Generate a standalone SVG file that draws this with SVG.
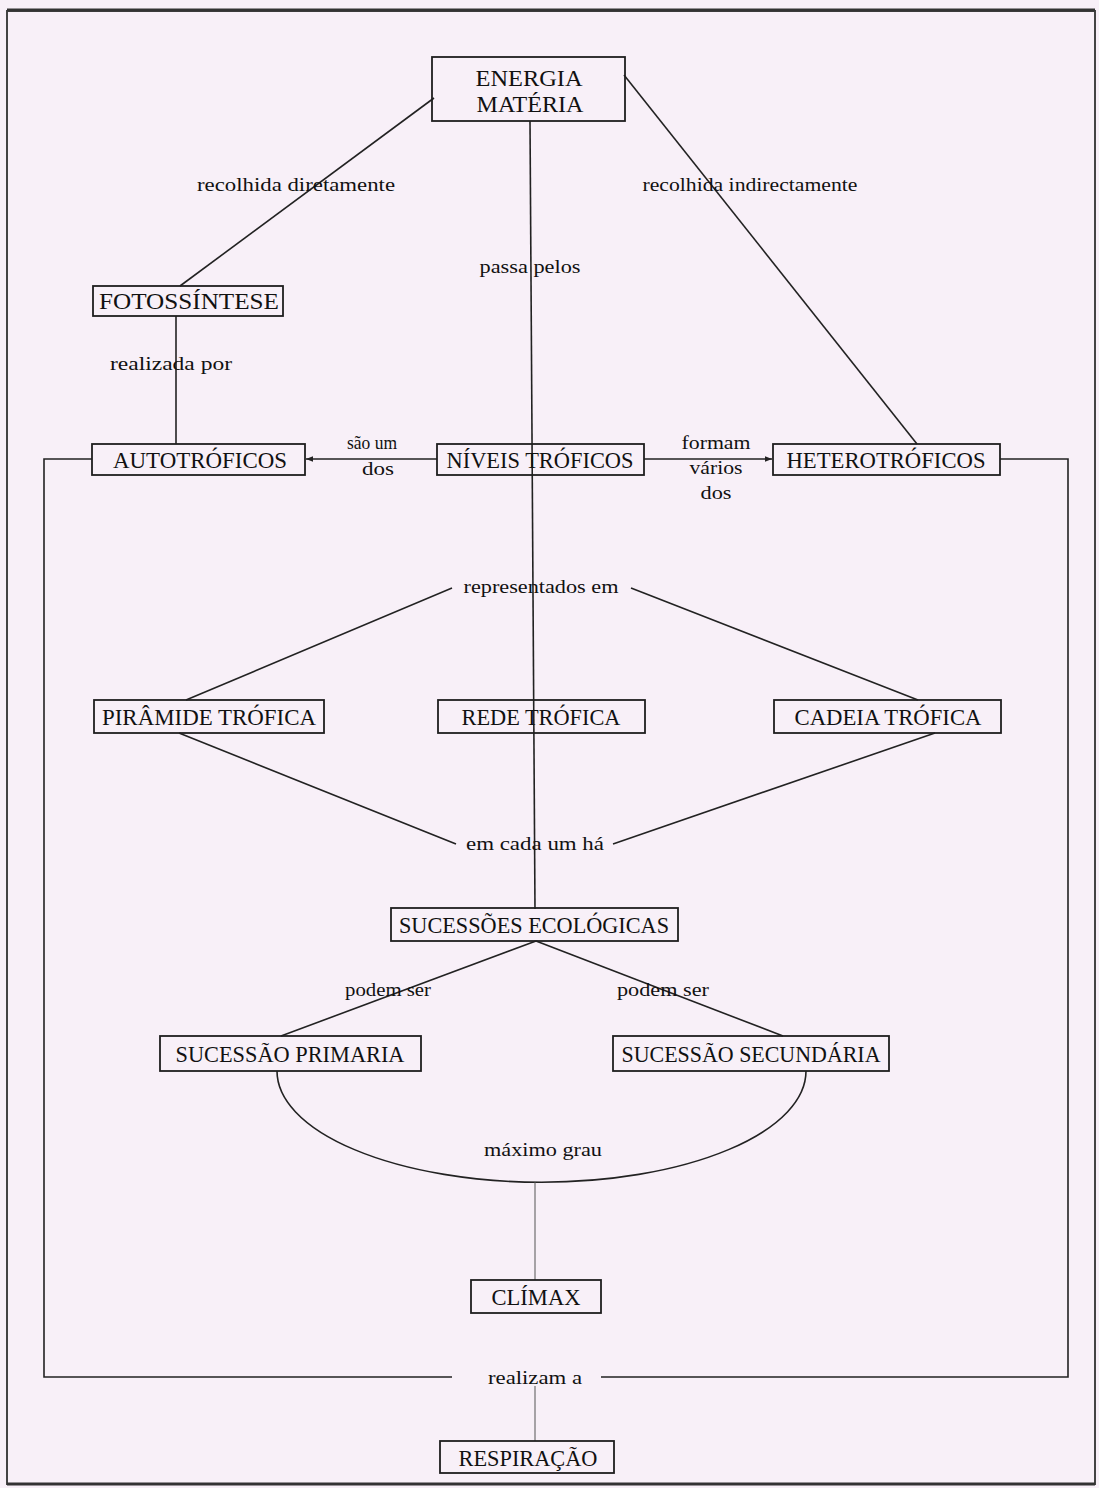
<svg xmlns="http://www.w3.org/2000/svg" width="1099" height="1488" viewBox="0 0 1099 1488">
<defs>
<style>
.bg{fill:#f8f0f8}
.box{fill:none;stroke:#1e1e1e;stroke-width:1.8}
.nt{font-family:"Liberation Serif","Times New Roman",serif;font-size:23px;fill:#111;text-anchor:middle}
.lb{font-family:"Liberation Serif","Times New Roman",serif;font-size:18.5px;fill:#111;text-anchor:middle}
.ln{fill:none;stroke:#222;stroke-width:1.6}
.thin{fill:none;stroke:#555;stroke-width:1}
.frame{fill:none;stroke:#444;stroke-width:2}
</style>
<marker id="ah" viewBox="0 0 10 10" refX="10" refY="5" markerWidth="7" markerHeight="7" orient="auto" markerUnits="userSpaceOnUse">
<path d="M0,1 L10,5 L0,9 z" fill="#222"/>
</marker>
</defs>
<rect class="bg" x="0" y="0" width="1099" height="1488"/>
<g id="page-frame">
<path class="frame" d="M7,1484 L7,11 L1095,11 L1095,1484 Z"/>
<line x1="7" y1="10" x2="1095" y2="10" stroke="#333" stroke-width="3"/>
<line x1="7" y1="1484" x2="1095" y2="1484" stroke="#333" stroke-width="3"/>
</g>
<g id="connectors">
<line class="ln" x1="434" y1="98" x2="180" y2="286"/>
<line class="ln" x1="624" y1="75" x2="917" y2="444"/>
<line class="ln" x1="530" y1="121" x2="535" y2="909" stroke-width="1.4"/>
<line class="ln" x1="176" y1="316" x2="176" y2="444"/>
<line class="ln" x1="437" y1="459" x2="306" y2="459" marker-end="url(#ah)"/>
<line class="ln" x1="644" y1="459" x2="772" y2="459" marker-end="url(#ah)" stroke-width="2.4"/>
<polyline class="ln" points="92,459 44,459 44,1377 452,1377"/>
<polyline class="ln" points="1000,459 1068,459 1068,1377 601,1377"/>
<line class="ln" x1="452" y1="588" x2="186" y2="700"/>
<line class="ln" x1="631" y1="588" x2="918" y2="700"/>
<line class="ln" x1="179" y1="733" x2="456" y2="844"/>
<line class="ln" x1="935" y1="733" x2="613" y2="844"/>
<line class="ln" x1="536" y1="941" x2="281" y2="1036"/>
<line class="ln" x1="536" y1="941" x2="783" y2="1036"/>
<path class="ln" d="M277,1071 A264,111 0 0 0 806,1071"/>
<line class="thin" x1="535" y1="1182" x2="535" y2="1280"/>
<line class="thin" x1="535" y1="1386" x2="535" y2="1441"/>
</g>
<g id="connector-labels">
<text class="lb" x="296" y="191" textLength="198" lengthAdjust="spacingAndGlyphs">recolhida diretamente</text>
<text class="lb" x="750" y="191" textLength="215" lengthAdjust="spacingAndGlyphs">recolhida indirectamente</text>
<text class="lb" x="530" y="273" textLength="101" lengthAdjust="spacingAndGlyphs">passa pelos</text>
<text class="lb" x="171" y="370" textLength="122" lengthAdjust="spacingAndGlyphs">realizada por</text>
<text class="lb" x="372" y="449" textLength="50" lengthAdjust="spacingAndGlyphs">são um</text>
<text class="lb" x="378" y="475" textLength="32" lengthAdjust="spacingAndGlyphs">dos</text>
<text class="lb" x="716" y="449" textLength="69" lengthAdjust="spacingAndGlyphs">formam</text>
<text class="lb" x="716" y="474" textLength="53" lengthAdjust="spacingAndGlyphs">vários</text>
<text class="lb" x="716" y="499" textLength="31" lengthAdjust="spacingAndGlyphs">dos</text>
<text class="lb" x="541" y="593" textLength="155" lengthAdjust="spacingAndGlyphs">representados em</text>
<text class="lb" x="535" y="850" textLength="138" lengthAdjust="spacingAndGlyphs">em cada um há</text>
<text class="lb" x="388" y="996" textLength="86" lengthAdjust="spacingAndGlyphs">podem ser</text>
<text class="lb" x="663" y="996" textLength="92" lengthAdjust="spacingAndGlyphs">podem ser</text>
<text class="lb" x="543" y="1156" textLength="118" lengthAdjust="spacingAndGlyphs">máximo grau</text>
<text class="lb" x="535" y="1384" textLength="94" lengthAdjust="spacingAndGlyphs">realizam a</text>
</g>
<g id="node-energia">
<rect class="box" x="432" y="57" width="193" height="64"/>
<text class="nt" x="529" y="86" textLength="107" lengthAdjust="spacingAndGlyphs">ENERGIA</text>
<text class="nt" x="530" y="112" textLength="107" lengthAdjust="spacingAndGlyphs">MATÉRIA</text>
</g>
<g id="node-fotossintese">
<rect class="box" x="93" y="286" width="190" height="30"/>
<text class="nt" x="189" y="309" textLength="180" lengthAdjust="spacingAndGlyphs">FOTOSSÍNTESE</text>
</g>
<g id="node-autotroficos">
<rect class="box" x="92" y="444" width="213" height="31"/>
<text class="nt" x="200" y="468" textLength="174" lengthAdjust="spacingAndGlyphs">AUTOTRÓFICOS</text>
</g>
<g id="node-niveis">
<rect class="box" x="437" y="444" width="207" height="31"/>
<text class="nt" x="540" y="468" textLength="187" lengthAdjust="spacingAndGlyphs">NÍVEIS TRÓFICOS</text>
</g>
<g id="node-heterotroficos">
<rect class="box" x="773" y="444" width="227" height="31"/>
<text class="nt" x="886" y="468" textLength="199" lengthAdjust="spacingAndGlyphs">HETEROTRÓFICOS</text>
</g>
<g id="node-piramide">
<rect class="box" x="94" y="700" width="230" height="33"/>
<text class="nt" x="209" y="725" textLength="214" lengthAdjust="spacingAndGlyphs">PIRÂMIDE TRÓFICA</text>
</g>
<g id="node-rede">
<rect class="box" x="438" y="700" width="207" height="33"/>
<text class="nt" x="541" y="725" textLength="159" lengthAdjust="spacingAndGlyphs">REDE TRÓFICA</text>
</g>
<g id="node-cadeia">
<rect class="box" x="774" y="700" width="227" height="33"/>
<text class="nt" x="888" y="725" textLength="187" lengthAdjust="spacingAndGlyphs">CADEIA TRÓFICA</text>
</g>
<g id="node-sucessoes">
<rect class="box" x="391" y="908" width="287" height="33"/>
<text class="nt" x="534" y="933" textLength="270" lengthAdjust="spacingAndGlyphs">SUCESSÕES ECOLÓGICAS</text>
</g>
<g id="node-primaria">
<rect class="box" x="160" y="1036" width="261" height="35"/>
<text class="nt" x="290" y="1062" textLength="229" lengthAdjust="spacingAndGlyphs">SUCESSÃO PRIMARIA</text>
</g>
<g id="node-secundaria">
<rect class="box" x="613" y="1036" width="276" height="35"/>
<text class="nt" x="751" y="1062" textLength="259" lengthAdjust="spacingAndGlyphs">SUCESSÃO SECUNDÁRIA</text>
</g>
<g id="node-climax">
<rect class="box" x="471" y="1280" width="130" height="33"/>
<text class="nt" x="536" y="1305" textLength="89" lengthAdjust="spacingAndGlyphs">CLÍMAX</text>
</g>
<g id="node-respiracao">
<rect class="box" x="440" y="1441" width="174" height="32"/>
<text class="nt" x="528" y="1466" textLength="139" lengthAdjust="spacingAndGlyphs">RESPIRAÇÃO</text>
</g>
</svg>
